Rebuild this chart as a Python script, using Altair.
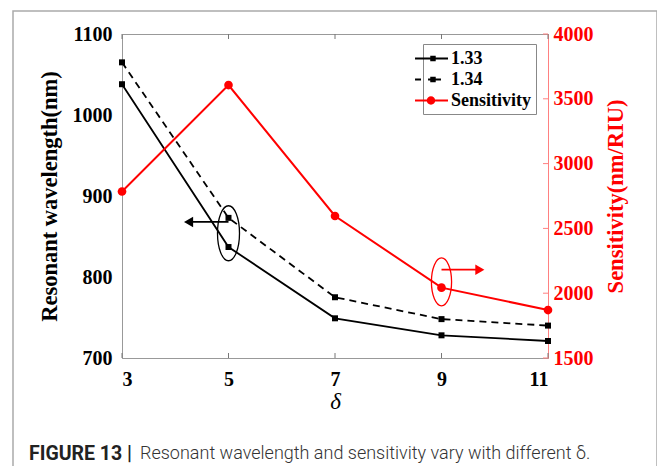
import altair as alt
import pandas as pd

# ---- data ----
delta = [3, 5, 7, 9, 11]
wl_133 = [1038, 837, 749, 728, 721]
wl_134 = [1065, 873, 775, 748, 740]
sensitivity = [2785, 3606, 2596, 2043, 1870]

x_ticks = [3, 5, 7, 9, 11]
yl_ticks = [700, 800, 900, 1000, 1100]
yr_ticks = [1500, 2000, 2500, 3000, 3500, 4000]

series_names = ["1.33", "1.34", "Sensitivity"]

# annotation anchors (data units of the left axis)
black_ell_x, black_ell_y = [5.0], [854]
black_arrow_x, black_arrow_x2, black_arrow_y = [4.25], [5.0], [868]
red_ell_x, red_ell_y = [9.0], [794]
red_arrow_x, red_arrow_x2, red_arrow_y = [9.0], [9.72], [809]

df133 = pd.DataFrame({"delta": delta, "wl": wl_133})
df134 = pd.DataFrame({"delta": delta, "wl": wl_134})
dfs = pd.DataFrame({"delta": delta, "sens": sensitivity})
dfx = pd.DataFrame({"delta": x_ticks})
dfyr = pd.DataFrame({"sens": yr_ticks})
dflegend = pd.DataFrame({"delta": [3, 3, 3], "wl": [800, 800, 800], "series": series_names})
one = pd.DataFrame({"k": [0]})

SERIF = "Liberation Serif"
W, H = 426, 324

xscale = alt.Scale(domain=[3, 11], nice=False, zero=False)
ylscale = alt.Scale(domain=[700, 1100], nice=False, zero=False)
yrscale = alt.Scale(domain=[1500, 4000], nice=False, zero=False)

xaxis = alt.Axis(values=x_ticks, format="d", title="δ", titleFont=SERIF, titleFontSize=23,
                 titleFontStyle="italic", titleFontWeight="normal", titlePadding=1,
                 labelFont=SERIF, labelFontSize=20, labelFontWeight="bold", labelColor="black",
                 labelPadding=11, ticks=False, domainColor="#999999", grid=False)
ylaxis = alt.Axis(values=yl_ticks, format="d", title="Resonant wavelength(nm)", titleFont=SERIF,
                  titleFontSize=22.5, titleFontWeight="bold", titleColor="black", titlePadding=11,
                  labelFont=SERIF, labelFontSize=20, labelFontWeight="bold", labelColor="black",
                  labelPadding=10, ticks=False, domainColor="#999999", grid=False)
yraxis = alt.Axis(values=yr_ticks, format="d", orient="right", title="Sensitivity(nm/RIU)",
                  titleFont=SERIF, titleFontSize=22.5, titleFontWeight="bold", titleColor="#ff0000",
                  titleAngle=270, titleBaseline="middle", titleAlign="center", titleX=67, titleY=H / 2,
                  labelFont=SERIF, labelFontSize=20,
                  labelFontWeight="bold", labelColor="#ff0000", labelPadding=5, ticks=False,
                  domainColor="#ff8080", grid=False)


def X(field="delta"):
    return alt.X(f"{field}:Q", scale=xscale, axis=xaxis)


def YL(field="wl"):
    return alt.Y(f"{field}:Q", scale=ylscale, axis=ylaxis)


# figure frame and caption
frame = alt.Chart(one).mark_rect(fill=None, stroke="#aaaaaa", strokeWidth=1.5).encode(
    x=alt.value(-109), x2=alt.value(535), y=alt.value(-23), y2=alt.value(446))
cap1 = alt.Chart(one).mark_text(align="left", baseline="middle", font="Roboto", fontSize=19.5,
                                fontWeight="bold", color="#222222").encode(
    x=alt.value(-93), y=alt.value(420), text=alt.value("FIGURE 13 |"))
cap2 = alt.Chart(one).mark_text(align="left", baseline="middle", font="Roboto", fontSize=18,
                                fontWeight=300, color="#333333").encode(
    x=alt.value(18), y=alt.value(420),
    text=alt.value("Resonant wavelength and sensitivity vary with different δ."))

line133 = alt.Chart(df133).mark_line(color="black", strokeWidth=1.8).encode(x=X(), y=YL())
pts133 = alt.Chart(df133).mark_point(shape="square", filled=True, size=36, color="black", opacity=1).encode(x=X(), y=YL())
line134 = alt.Chart(df134).mark_line(color="black", strokeWidth=1.8, strokeDash=[7, 5]).encode(x=X(), y=YL())
pts134 = alt.Chart(df134).mark_point(shape="square", filled=True, size=36, color="black", opacity=1).encode(x=X(), y=YL())

tick_bottom = alt.Chart(dfx).mark_rule(color="#777777", strokeWidth=1).encode(
    x=X(), y=alt.value(H), y2=alt.value(H - 5))
tick_top = alt.Chart(dfx).mark_rule(color="#777777", strokeWidth=1).encode(
    x=X(), y=alt.value(0), y2=alt.value(5))

ELL_B = "M-0.4,0A0.4,1 0 1 1 0.4,0A0.4,1 0 1 1 -0.4,0Z"
ELL_R = "M-0.42,0A0.42,1 0 1 1 0.42,0A0.42,1 0 1 1 -0.42,0Z"

dfbe = pd.DataFrame({"ax": black_ell_x, "ay": black_ell_y})
dfba = pd.DataFrame({"ax": black_arrow_x, "ax2": black_arrow_x2, "ay": black_arrow_y})
dfre = pd.DataFrame({"ax": red_ell_x, "ay": red_ell_y})
dfra = pd.DataFrame({"ax": red_arrow_x, "ax2": red_arrow_x2, "ay": red_arrow_y})

ell_b = alt.Chart(dfbe).mark_point(shape=ELL_B, size=3025, filled=False, color="black",
                                   strokeWidth=1.3, opacity=1).encode(x=X("ax"), y=YL("ay"))
arr_b = alt.Chart(dfba).mark_rule(color="black", strokeWidth=1.8).encode(
    x=X("ax"), x2="ax2:Q", y=YL("ay"))
head_b = alt.Chart(dfba).mark_point(shape="triangle-left", filled=True, size=110, color="black",
                                    opacity=1).encode(x=X("ax"), y=YL("ay"))
ell_r = alt.Chart(dfre).mark_point(shape=ELL_R, size=2304, filled=False, color="#ff0000",
                                   strokeWidth=1.3, opacity=1).encode(x=X("ax"), y=YL("ay"))
arr_r = alt.Chart(dfra).mark_rule(color="#ff0000", strokeWidth=1.8).encode(
    x=X("ax"), x2="ax2:Q", y=YL("ay"))
head_r = alt.Chart(dfra).mark_point(shape="triangle-right", filled=True, size=110, color="#ff0000",
                                    opacity=1).encode(x=X("ax2"), y=YL("ay"))

# legend glyphs: line + marker
P133 = "M-2.14,-0.095H1V0.095H-2.14Z M-0.69,-0.26H-0.17V0.26H-0.69Z"
P134 = "M-2.14,-0.095H-1.57V0.095H-2.14Z M-0.9,-0.095H0.33V0.095H-0.9Z M-0.69,-0.26H-0.17V0.26H-0.69Z"
PSEN = "M-2.14,-0.095H1V0.095H-2.14Z M-1.02,0A0.4,0.4 0 1 1 -0.22,0A0.4,0.4 0 1 1 -1.02,0Z"

legend_layer = alt.Chart(dflegend).transform_filter("datum.delta < 0").mark_point(
    filled=True, opacity=1, size=441).encode(
    x=X(), y=YL(),
    shape=alt.Shape("series:N", scale=alt.Scale(domain=series_names, range=[P133, P134, PSEN]),
                    legend=alt.Legend(title=None)),
    color=alt.Color("series:N", scale=alt.Scale(domain=series_names, range=["black", "black", "#ff0000"]),
                    legend=alt.Legend(title=None)))

left = alt.layer(frame, line133, line134, pts133, pts134, tick_bottom, tick_top,
                 ell_b, arr_b, head_b, ell_r, arr_r, head_r, legend_layer, cap1, cap2)

sens_line = alt.Chart(dfs).mark_line(color="#ff0000", strokeWidth=2).encode(
    x=X(), y=alt.Y("sens:Q", scale=yrscale, axis=yraxis))
sens_pts = alt.Chart(dfs).mark_point(shape="circle", filled=True, size=75, color="#ff0000", opacity=1).encode(
    x=X(), y=alt.Y("sens:Q", scale=yrscale, axis=yraxis))
tick_right = alt.Chart(dfyr).mark_rule(color="#ff8080", strokeWidth=1).encode(
    x=alt.value(W), x2=alt.value(W - 5), y=alt.Y("sens:Q", scale=yrscale, axis=yraxis))

right = alt.layer(tick_right, sens_line, sens_pts)

chart = alt.layer(left, right).resolve_scale(y="independent").properties(
    width=W, height=H,
    autosize=alt.AutoSizeParams(type="none"),
    padding={"left": 114, "top": 26, "right": 109, "bottom": 108},
    background="white",
).configure_view(stroke="#999999", strokeWidth=1).configure_legend(
    orient="none", legendX=301, legendY=10, strokeColor="#888888", fillColor="white",
    padding=4, labelFont=SERIF, labelFontSize=18, labelFontWeight="bold", labelColor="black",
    labelOffset=3, rowPadding=1, symbolStrokeWidth=0, symbolSize=441,
)

chart.save("out.html", embed_options={"renderer": "svg", "actions": False})
